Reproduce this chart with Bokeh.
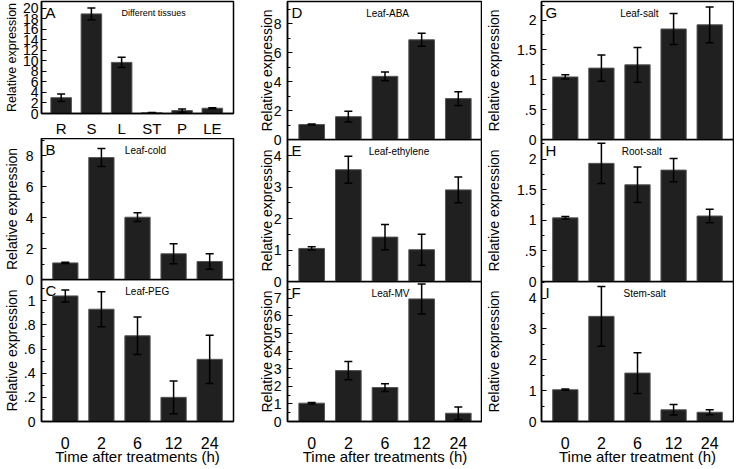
from bokeh.plotting import figure
from bokeh.layouts import row, column
from bokeh.models import (ColumnDataSource, Whisker, TeeHead, Range1d, SingleIntervalTicker,
                          FixedTicker, CustomJSTickFormatter, Label)
from bokeh.embed import file_html
from bokeh.resources import INLINE

# ---------------- data ----------------
tissue_labels = ["R", "S", "L", "ST", "P", "LE"]
time_labels = ["0", "2", "6", "12", "24"]

a_vals = [3.0, 18.9, 9.7, 0.15, 0.56, 1.0]
a_err = [0.7, 1.1, 0.95, 0.05, 0.3, 0.1]
b_vals = [1.07, 7.87, 4.02, 1.66, 1.16]
b_err = [0.04, 0.58, 0.28, 0.64, 0.5]
c_vals = [1.04, 0.93, 0.71, 0.20, 0.515]
c_err = [0.05, 0.145, 0.155, 0.135, 0.2]
d_vals = [1.04, 1.58, 4.37, 6.9, 2.83]
d_err = [0.04, 0.37, 0.3, 0.45, 0.47]
e_vals = [1.05, 3.55, 1.41, 1.01, 2.91]
e_err = [0.05, 0.43, 0.4, 0.49, 0.41]
f_vals = [1.04, 2.89, 1.93, 6.96, 0.47]
f_err = [0.04, 0.52, 0.22, 0.85, 0.35]
g_vals = [1.047, 1.195, 1.25, 1.85, 1.92]
g_err = [0.035, 0.22, 0.29, 0.26, 0.3]
h_vals = [1.04, 1.93, 1.58, 1.82, 1.07]
h_err = [0.02, 0.33, 0.29, 0.19, 0.11]
i_vals = [1.03, 3.41, 1.57, 0.38, 0.30]
i_err = [0.02, 0.97, 0.66, 0.17, 0.08]

FONT = "Liberation Sans"
YLABEL = "Relative expression"

FMT = CustomJSTickFormatter(code="""
let v = Math.round(tick * 1000) / 1000;
let s = v.toString();
if (s.startsWith("0.")) s = s.slice(1);
return s;
""")


def make_panel(cats, vals, errs, ymax, interval, nminor, L, R, T, B, frame_w, frame_h,
               letter, title, title_x, tick_std, lab_std, xr=(-0.66, 4.66), bar_w=0.7,
               xaxis=False, xtitle=None, overlap=0, title_size="10px", ylab_size="14px",
               xtick_size="16px", xtick_std=15):
    width = L + frame_w + R
    height = T + frame_h + B
    p = figure(width=width, height=height, output_backend="svg", toolbar_location=None,
               x_range=Range1d(*xr), y_range=Range1d(0, ymax),
               x_axis_location="below" if xaxis else None,
               min_border_left=L, min_border_right=R, min_border_top=T, min_border_bottom=B)
    if overlap:
        p.margin = (-overlap, 0, 0, 0)
    p.border_fill_color = None
    p.background_fill_color = None
    p.outline_line_color = "black"
    p.outline_line_width = 1.5
    p.grid.visible = False

    xs = list(range(len(vals)))
    src = ColumnDataSource(dict(
        x=xs, top=vals,
        upper=[v + e for v, e in zip(vals, errs)],
        lower=[v - e for v, e in zip(vals, errs)],
    ))
    p.vbar(x="x", top="top", bottom=0, width=bar_w, source=src,
           fill_color="#202020", line_color="#555555", line_width=1)
    w = Whisker(base="x", upper="upper", lower="lower", source=src,
                line_color="black", line_width=1.5, level="overlay",
                upper_head=TeeHead(size=8, line_color="black", line_width=1.5),
                lower_head=TeeHead(size=8, line_color="black", line_width=1.5))
    p.add_layout(w)

    ya = p.yaxis[0]
    ya.ticker = SingleIntervalTicker(interval=interval, num_minor_ticks=nminor)
    ya.formatter = FMT
    ya.major_tick_in = 5
    ya.major_tick_out = 0
    ya.minor_tick_in = 3
    ya.minor_tick_out = 0
    ya.major_tick_line_width = 1.2
    ya.minor_tick_line_width = 1.2
    ya.axis_line_width = 1.5
    ya.major_label_text_font = FONT
    ya.major_label_text_font_size = "14px"
    ya.major_label_text_color = "black"
    ya.major_label_standoff = tick_std
    ya.axis_label = YLABEL
    ya.axis_label_text_font = FONT
    ya.axis_label_text_font_size = ylab_size
    ya.axis_label_text_font_style = "normal"
    ya.axis_label_text_color = "black"
    ya.axis_label_standoff = lab_std

    if xaxis:
        xa = p.xaxis[0]
        xa.ticker = FixedTicker(ticks=xs)
        xa.major_label_overrides = {i: c for i, c in enumerate(cats)}
        xa.major_tick_in = 0
        xa.major_tick_out = 0
        xa.minor_tick_in = 0
        xa.minor_tick_out = 0
        xa.axis_line_width = 1.5
        xa.major_label_text_font = FONT
        xa.major_label_text_font_size = xtick_size
        xa.major_label_text_color = "black"
        xa.major_label_standoff = xtick_std
        if xtitle:
            xa.axis_label = xtitle
            xa.axis_label_text_font = FONT
            xa.axis_label_text_font_size = "15px"
            xa.axis_label_text_font_style = "normal"
            xa.axis_label_text_color = "black"
            xa.axis_label_standoff = -4

    ppx = frame_w / (xr[1] - xr[0])
    p.add_layout(Label(x=xr[0] + 4 / ppx, y=ymax * (1 - 2.0 / frame_h), text=letter,
                       text_font=FONT, text_font_size="15px", text_baseline="top",
                       text_align="left", text_color="black"))
    p.add_layout(Label(x=title_x, y=ymax * (1 - 6.0 / frame_h), text=title,
                       text_font=FONT, text_font_size=title_size, text_baseline="top",
                       text_align="center", text_color="black"))
    return p


# column 1  (frame x: 39 + 194 + 4)
pa = make_panel(tissue_labels, a_vals, a_err, 21.25, 2, 0, 39, 4, 1, 29, 194, 112,
                "A", "Different tissues", 3.06, 3, 1, xr=(-0.65, 5.7), bar_w=0.68,
                xaxis=True, title_size="9px", ylab_size="12.5px", xtick_size="15px",
                xtick_std=6)
pb = make_panel(time_labels, b_vals, b_err, 9.1, 2, 2, 39, 4, 0, 8, 194, 141,
                "B", "Leaf-cold", 2.22, 8, 3, overlap=4)
pc = make_panel(time_labels, c_vals, c_err, 1.176, 0.2, 2, 39, 4, 0, 63, 194, 142,
                "C", "Leaf-PEG", 2.27, 6, 1, xaxis=True,
                xtitle="Time after treatments (h)", overlap=8)
# column 2  (frame x: 50 + 195 + 0)
pd_ = make_panel(time_labels, d_vals, d_err, 9.55, 2, 2, 50, 0, 1, 8, 195, 138,
                 "D", "Leaf-ABA", 2.07, 6, -4)
pe = make_panel(time_labels, e_vals, e_err, 4.51, 1, 2, 50, 0, 0, 8, 195, 142,
                "E", "Leaf-ethylene", 2.38, 6, -4, overlap=8)
pf = make_panel(time_labels, f_vals, f_err, 7.95, 1, 2, 50, 0, 0, 63, 195, 140,
                "F", "Leaf-MV", 2.15, 6, -4, xaxis=True,
                xtitle="Time after treatments (h)", overlap=8)
# column 3  (frame x: 58 + 193 + 1)
pg = make_panel(time_labels, g_vals, g_err, 2.31, 0.5, 2, 58, 1, 1, 8, 193, 138,
                "G", "Leaf-salt", 2.05, 5, 12)
ph = make_panel(time_labels, h_vals, h_err, 2.32, 0.5, 2, 58, 1, 0, 8, 193, 142,
                "H", "Root-salt", 2.12, 5, 12, overlap=8)
pi = make_panel(time_labels, i_vals, i_err, 4.54, 1, 2, 58, 1, 0, 63, 193, 140,
                "I", "Stem-salt", 2.2, 5, 24, xaxis=True,
                xtitle="Time after treatment (h)", overlap=8)

layout = row(column(pa, pb, pc), column(pd_, pe, pf), column(pg, ph, pi))

with open("out.html", "w") as fh:
    fh.write(file_html(layout, INLINE))
